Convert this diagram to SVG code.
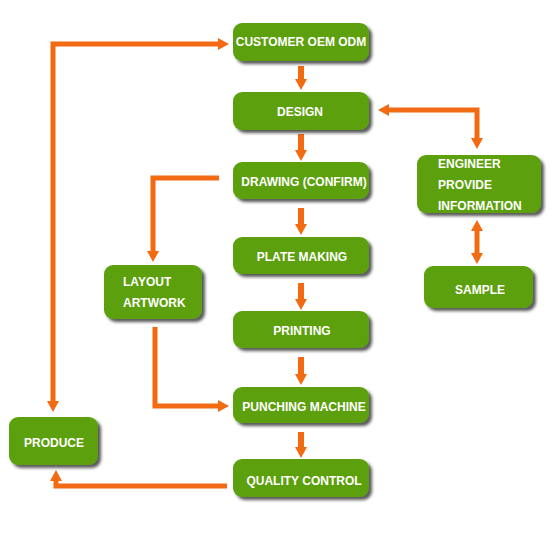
<svg xmlns="http://www.w3.org/2000/svg" width="560" height="560" viewBox="0 0 560 560">
<style>
.box{fill:#5ba010;filter:url(#sh)}
.t{font-family:"Liberation Sans",Arial,sans-serif;font-weight:bold;font-size:12px;fill:#ffffff}
.c{text-anchor:middle}
.ln{fill:none;stroke:#f26a12;stroke-width:5;stroke-linejoin:miter;stroke-linecap:butt}
.th{stroke-width:6}
</style>
<defs>
<filter id="sh" x="-20%" y="-30%" width="150%" height="180%">
<feDropShadow dx="3" dy="3" stdDeviation="1.8" flood-color="#222" flood-opacity="0.75"/>
</filter>
<marker id="ah" viewBox="0 0 11 12" refX="0" refY="6" markerWidth="11" markerHeight="12" markerUnits="userSpaceOnUse" orient="auto-start-reverse">
<path d="M0,0 L11,6 L0,12 z" fill="#f26a12"/>
</marker>
</defs>
<rect width="560" height="560" fill="#ffffff"/>
<g id="connectors">
<path class="ln" d="M53,401 L53,44 L218,44" marker-start="url(#ah)" marker-end="url(#ah)"/>
<path class="ln th" d="M301,66 L301,79" marker-end="url(#ah)"/>
<path class="ln th" d="M301,134 L301,150" marker-end="url(#ah)"/>
<path class="ln th" d="M301,208 L301,224" marker-end="url(#ah)"/>
<path class="ln th" d="M301,283 L301,299" marker-end="url(#ah)"/>
<path class="ln th" d="M301,357 L301,374" marker-end="url(#ah)"/>
<path class="ln th" d="M301,432 L301,447" marker-end="url(#ah)"/>
<path class="ln" d="M477,138 L477,110 L389,110" marker-start="url(#ah)" marker-end="url(#ah)"/>
<path class="ln" d="M477,231 L477,253" marker-start="url(#ah)" marker-end="url(#ah)"/>
<path class="ln" d="M219,178 L153,178 L153,251" marker-end="url(#ah)"/>
<path class="ln" d="M155,327 L155,406 L218,406" marker-end="url(#ah)"/>
<path class="ln" d="M227,486 L56,486 L56,481" marker-end="url(#ah)"/>
</g>
<g id="customer"><rect class="box" x="233" y="23" width="136" height="38" rx="9"/><text class="t c" x="301" y="46">CUSTOMER OEM ODM</text></g>
<g id="design"><rect class="box" x="233" y="92" width="136" height="38" rx="9"/><text class="t c" x="300" y="116">DESIGN</text></g>
<g id="drawing"><rect class="box" x="233" y="162" width="136" height="37" rx="9"/><text class="t c" x="304" y="186">DRAWING (CONFIRM)</text></g>
<g id="plate"><rect class="box" x="233" y="237" width="136" height="37" rx="9"/><text class="t c" x="302" y="261">PLATE MAKING</text></g>
<g id="printing"><rect class="box" x="233" y="311" width="136" height="37" rx="9"/><text class="t c" x="302" y="335">PRINTING</text></g>
<g id="punching"><rect class="box" x="233" y="387" width="136" height="36" rx="9"/><text class="t c" x="304" y="411">PUNCHING MACHINE</text></g>
<g id="quality"><rect class="box" x="233" y="459" width="136" height="38" rx="9"/><text class="t c" x="304" y="485">QUALITY CONTROL</text></g>
<g id="engineer"><rect class="box" x="417" y="155" width="124" height="58" rx="9"/><text class="t" x="438" y="168">ENGINEER</text><text class="t" x="438" y="189">PROVIDE</text><text class="t" x="438" y="210">INFORMATION</text></g>
<g id="sample"><rect class="box" x="424" y="266" width="109" height="42" rx="9"/><text class="t c" x="480" y="294">SAMPLE</text></g>
<g id="layout"><rect class="box" x="104" y="265" width="98" height="54" rx="9"/><text class="t" x="123" y="286">LAYOUT</text><text class="t" x="123" y="307">ARTWORK</text></g>
<g id="produce"><rect class="box" x="9" y="417" width="89" height="48" rx="9"/><text class="t c" x="54" y="447">PRODUCE</text></g>
</svg>
